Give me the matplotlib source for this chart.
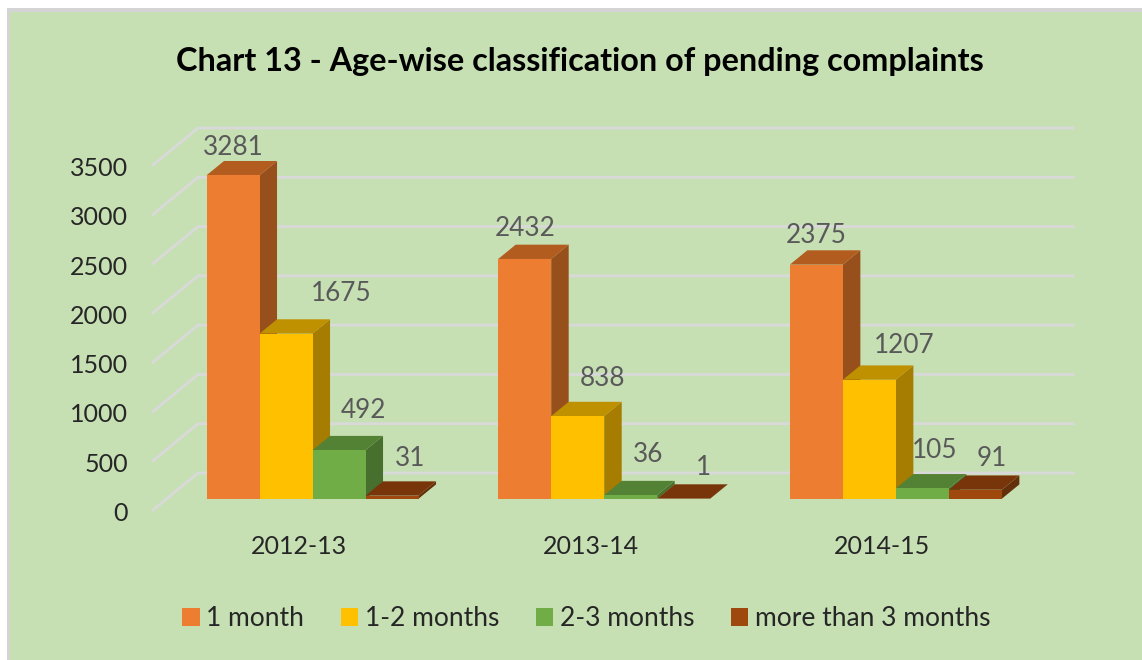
import matplotlib
matplotlib.use("Agg")
import matplotlib.pyplot as plt
from matplotlib.patches import Patch, Polygon, Rectangle
from matplotlib.transforms import ScaledTranslation

plt.rcParams["font.family"] = ["Lato", "DejaVu Sans"]

years = ["2012-13", "2013-14", "2014-15"]
series_names = ["1 month", "1-2 months", "2-3 months", "more than 3 months"]
one_month = [3281, 2432, 2375]
one_two_months = [1675, 838, 1207]
two_three_months = [492, 36, 105]
over_three_months = [31, 1, 91]
series_values = [one_month, one_two_months, two_three_months, over_three_months]

y_ticks = [0, 500, 1000, 1500, 2000, 2500, 3000, 3500]

# colours: front, top, side
front_colors = ["#ED7D31", "#FFC000", "#70AD47", "#9E480E"]
top_colors = ["#B35C20", "#BF9000", "#548235", "#78350A"]
side_colors = ["#97501C", "#A67D00", "#476F2D", "#64300B"]

# label offsets from the bar front top centre, in pixels (x right, y up)
label_offsets = [
    [(0, 28), (0, 30), (0, 29)],
    [(55, 40), (25, 38), (35, 34)],
    [(24, 40), (17, 41), (12, 38)],
    [(18, 37), (20, 31), (16, 31)],
]

W, H = 1142, 660
fig = plt.figure(figsize=(W / 100, H / 100), dpi=100, facecolor="white")

# green panel with its grey edge
fig.add_artist(Rectangle((7 / W, 0), 1, 1 - 8 / H, transform=fig.transFigure,
                         facecolor="#D4D4D4", edgecolor="none", zorder=-2))
fig.add_artist(Rectangle((10 / W, 0), 1, 1 - 11.5 / H, transform=fig.transFigure,
                         facecolor="#C6E0B4", edgecolor="none", zorder=-1))

# axes = front plane of the chart
ax = fig.add_axes([153 / W, 1 - 510 / H, 875 / W, 345 / H])
ax.patch.set_alpha(0)
ax.set_xlim(-0.5, 2.5)
ax.set_ylim(0, 3500)
for s in ax.spines.values():
    s.set_visible(False)

px_x = 3 / 875
px_y = 3500 / 345

wall_dx, wall_dy = 45 * px_x, 37 * px_y
base_dx, base_dy = 13.7 * px_x, 11.3 * px_y
depth_dx, depth_dy = 17.5 * px_x, 14.3 * px_y
bar_w = 53 * px_x

# floor/side wall and back wall gridlines
for v in y_ticks:
    ax.plot([-0.5, -0.5 + wall_dx, 2.5 + wall_dx], [v, v + wall_dy, v + wall_dy],
            color="#D9D9D9", lw=2, clip_on=False, zorder=1, solid_joinstyle="miter")

# 3d bars, left to right so each one overlaps the side of the previous
for g in range(len(years)):
    for i in range(len(series_names)):
        val = series_values[i][g]
        x0 = g - 2 * bar_w + i * bar_w + base_dx
        x1 = x0 + bar_w
        y0 = base_dy
        y1 = base_dy + val
        z = 2 + g * 10 + i
        ax.bar(x0, val, width=bar_w, bottom=y0, align="edge", color=front_colors[i],
               clip_on=False, zorder=z + 0.5)
        ax.add_patch(Polygon([(x1, y0), (x1 + depth_dx, y0 + depth_dy),
                              (x1 + depth_dx, y1 + depth_dy), (x1, y1)],
                             facecolor=side_colors[i], clip_on=False, zorder=z))
        ax.add_patch(Polygon([(x0, y1), (x0 + depth_dx, y1 + depth_dy),
                              (x1 + depth_dx, y1 + depth_dy), (x1, y1)],
                             facecolor=top_colors[i], clip_on=False, zorder=z))
        ax.annotate(str(val), (x0 + bar_w / 2, y1), xytext=label_offsets[i][g],
                    textcoords="offset pixels", ha="center", va="center",
                    fontsize=18.8, color="#595959", zorder=100, annotation_clip=False)

ax.set_xticks(range(len(years)))
ax.set_xticklabels(years, fontsize=18, color="#262626")
ax.set_yticks(y_ticks)
ax.set_yticklabels([str(v) for v in y_ticks], fontsize=18, color="#262626")
ax.tick_params(length=0)
ax.tick_params(axis="y", pad=18)
ax.tick_params(axis="x", pad=18)
shift = ScaledTranslation(0, -3.5 / 100, fig.dpi_scale_trans)
for lab in ax.get_yticklabels():
    lab.set_verticalalignment("center")
    lab.set_transform(lab.get_transform() + shift)

fig.text(580 / W, 1 - 61 / H, "Chart 13 - Age-wise classification of pending complaints",
         ha="center", va="center", fontsize=23.3, fontweight="bold", color="black")

handles = [Patch(facecolor=c, edgecolor="none") for c in front_colors]
fig.legend(handles, series_names, loc="center", bbox_to_anchor=(586.5 / W, 1 - 619 / H),
           ncol=4, frameon=False, fontsize=19, labelcolor="#262626",
           handlelength=0.65, handleheight=0.65, handletextpad=0.25, columnspacing=1.4)

fig.savefig("out.png", dpi=100)
